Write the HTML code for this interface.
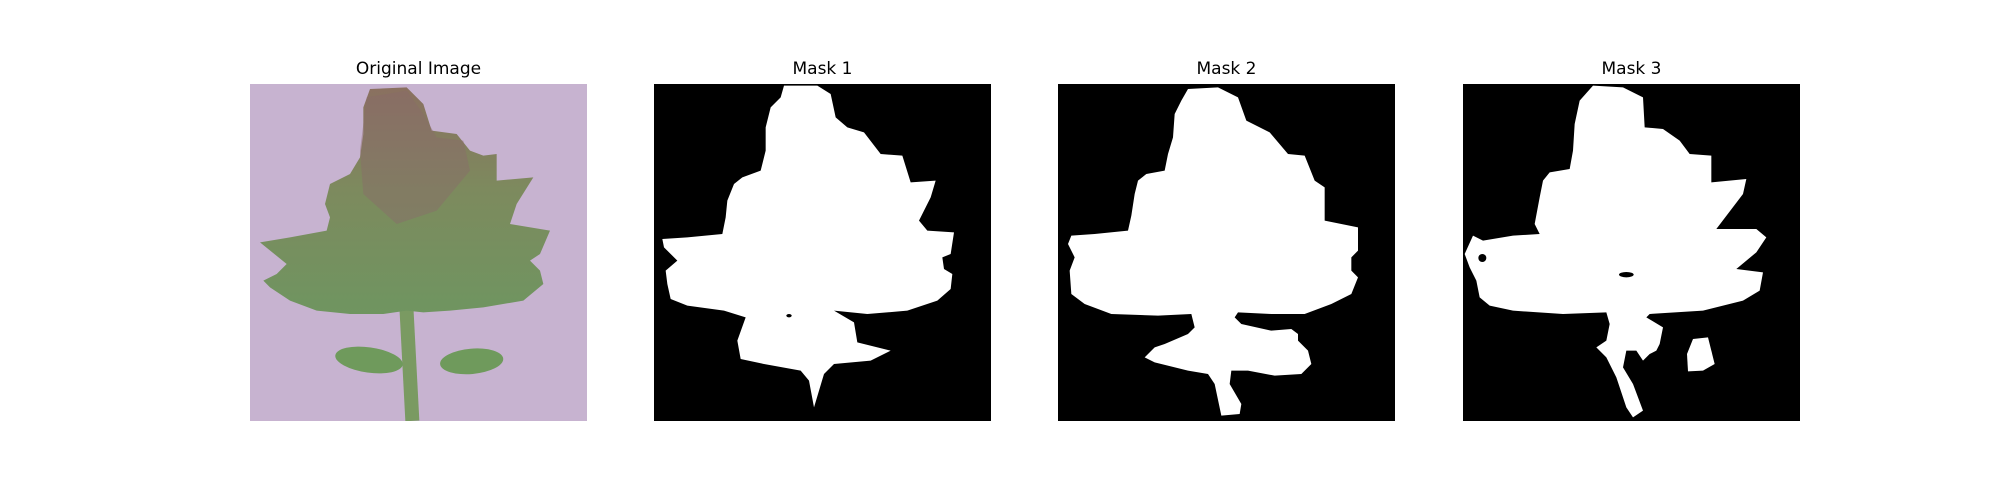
<!DOCTYPE html>
<html><head><meta charset="utf-8"><style>
html,body{margin:0;padding:0;background:#fff;}
body{width:2000px;height:500px;position:relative;overflow:hidden;font-family:"Liberation Sans","DejaVu Sans",sans-serif;}
.title{position:absolute;top:59px;width:337px;text-align:center;font-size:17px;color:#000;font-family:"DejaVu Sans","Liberation Sans",sans-serif;}
svg.panel{position:absolute;top:84px;width:337px;height:337px;}
</style></head><body>
<div class="title" style="left:250px">Original Image</div>
<div class="title" style="left:654px">Mask 1</div>
<div class="title" style="left:1058px">Mask 2</div>
<div class="title" style="left:1463px">Mask 3</div>

<svg class="panel" style="left:250px" viewBox="0 0 1011 1011">
<defs><linearGradient id="lg" x1="0" y1="0" x2="0" y2="1"><stop offset="0" stop-color="#8a7060"/><stop offset="0.45" stop-color="#7d8a5e"/><stop offset="1" stop-color="#6f9560"/></linearGradient></defs>
<rect width="1011" height="1011" fill="#c7b3d0"/>
<g>
<rect x="455" y="650" width="42" height="361" fill="#7a9a62" transform="rotate(-3 476 800)"/>
<ellipse cx="357" cy="828" rx="102" ry="38" fill="#6f9a5c" transform="rotate(8 357 828)"/>
<ellipse cx="665" cy="832" rx="95" ry="38" fill="#6f9a5c" transform="rotate(-5 665 832)"/>
<path fill="url(#lg)" d="M360,15 L470,10 L520,60 L545,140 L620,150 L660,200 L700,215 L740,210 L740,290 L850,280 L800,360 L780,420 L900,440 L870,510 L840,530 L870,560 L880,600 L820,650 L700,670 L600,680 L520,685 L470,680 L400,690 L300,690 L200,680 L120,650 L60,610 L40,590 L80,570 L110,540 L30,475 L120,460 L230,440 L240,400 L225,360 L240,300 L300,270 L330,220 L340,150 L340,70 Z"/>
<path fill="#8a6a6a" opacity="0.45" d="M350,40 L470,20 L520,90 L560,160 L640,170 L660,260 L560,380 L440,420 L340,330 L330,200 Z"/>
</g>
</svg>

<svg class="panel" style="left:654px" viewBox="0 0 1011 1011">
<rect width="1011" height="1011" fill="#000"/>
<path fill="#fff" d="M390,5 L490,5 L530,30 L545,100 L580,130 L630,145 L680,210 L745,215 L770,295 L845,290 L830,340 L795,410 L820,440 L900,445 L890,510 L865,520 L870,555 L895,570 L890,615 L850,650 L760,680 L640,690 L540,680 L600,715 L610,775 L710,800 L650,830 L540,840 L510,870 L480,970 L465,890 L440,860 L330,840 L260,825 L250,770 L275,700 L210,680 L100,665 L50,645 L40,600 L35,560 L70,530 L30,490 L25,465 L100,460 L205,450 L215,400 L220,350 L240,300 L265,280 L320,260 L335,200 L335,130 L350,70 L380,40 Z"/>
<ellipse cx="405" cy="695" rx="8" ry="5" fill="#000"/>
</svg>

<svg class="panel" style="left:1058px" viewBox="0 0 1011 1011">
<rect width="1011" height="1011" fill="#000"/>
<path fill="#fff" d="M390,15 L480,10 L540,40 L565,110 L635,145 L690,210 L740,215 L770,290 L800,310 L800,410 L900,430 L900,500 L880,520 L880,560 L900,580 L880,630 L820,660 L740,690 L640,690 L540,685 L530,700 L550,720 L640,740 L700,735 L720,750 L720,770 L750,800 L760,840 L730,870 L650,875 L570,860 L520,860 L515,900 L550,960 L545,990 L490,995 L470,900 L450,870 L390,860 L290,835 L260,820 L290,790 L320,780 L390,750 L410,730 L400,690 L300,695 L160,690 L80,660 L40,630 L35,560 L50,520 L30,480 L40,455 L110,450 L210,440 L220,395 L230,330 L240,290 L265,270 L320,260 L330,210 L345,160 L350,90 L370,50 Z"/>
</svg>

<svg class="panel" style="left:1463px" viewBox="0 0 1011 1011">
<rect width="1011" height="1011" fill="#000"/>
<path fill="#fff" d="M390,5 L480,10 L540,40 L545,130 L600,135 L650,170 L680,210 L745,215 L745,295 L850,285 L840,330 L760,435 L880,435 L910,460 L880,505 L820,555 L900,565 L890,620 L840,650 L720,680 L560,690 L550,700 L600,730 L590,780 L580,800 L560,810 L540,830 L520,800 L490,800 L480,850 L510,900 L540,980 L510,1000 L490,970 L460,880 L430,820 L400,790 L430,770 L440,720 L430,685 L300,690 L150,680 L80,665 L50,640 L40,590 L20,550 L5,510 L30,455 L60,470 L150,455 L230,450 L215,420 L230,340 L240,290 L260,265 L320,255 L330,200 L335,120 L350,50 Z"/>
<path fill="#fff" d="M690,765 L735,760 L745,800 L755,840 L720,860 L675,862 L672,810 Z"/>
<ellipse cx="490" cy="572" rx="22" ry="8" fill="#000"/>
<circle cx="58" cy="522" r="12" fill="#000"/>
</svg>
</body></html>
